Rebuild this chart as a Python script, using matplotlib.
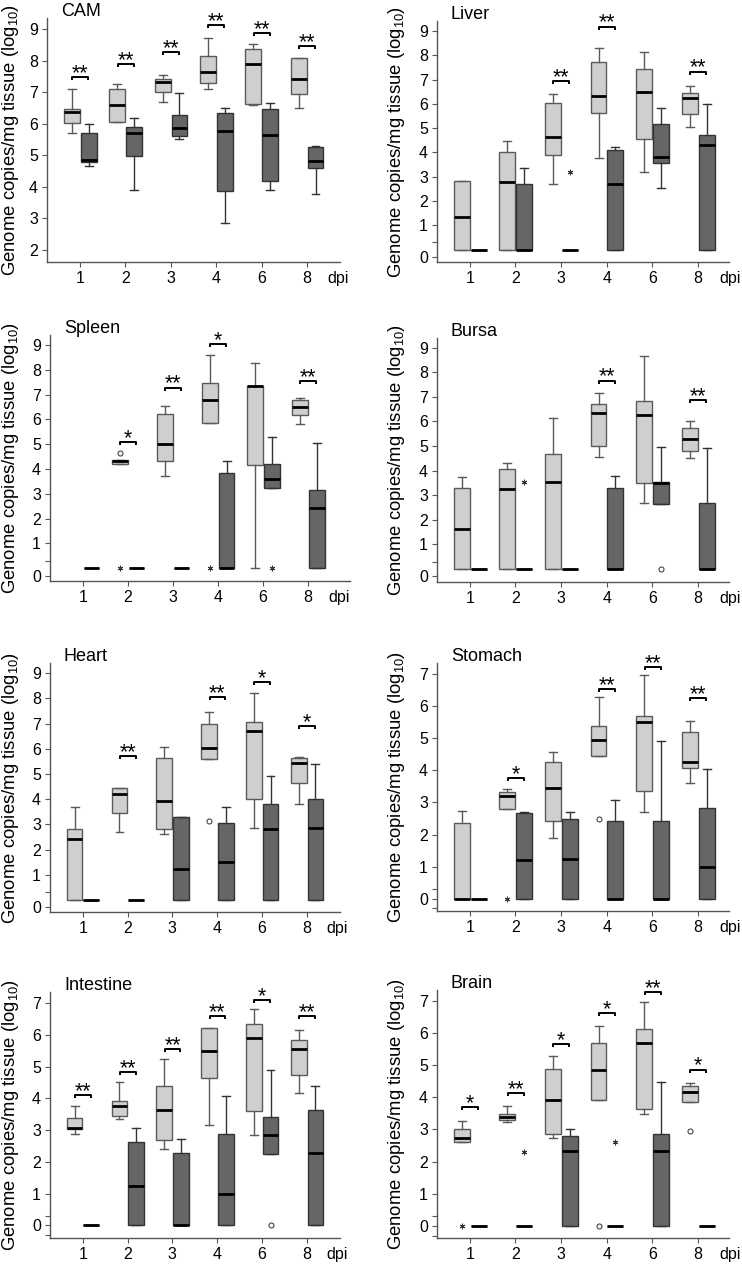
"""Viral genome copies per tissue, 8 boxplot panels -> out.png"""
import matplotlib

matplotlib.use("Agg")
import matplotlib.pyplot as plt

plt.rcParams.update({
    "font.family": ["Liberation Sans", "DejaVu Sans"],
    "mathtext.fontset": "custom",
    "mathtext.rm": "Liberation Sans",
    "mathtext.it": "Liberation Sans:italic",
    "mathtext.bf": "Liberation Sans:bold",
})

W, H = 742, 1265
DPI_LABELS = ["1", "2", "3", "4", "6", "8"]
YLABEL = "Genome copies/mg tissue (log$_{10}$)"

# rows: [whislo, q1, median, q3, whishi] per dpi; None = no box drawn
Z = [0, 0, 0, 0, 0]

CAM_LIGHT = [[5.72, 6.02, 6.39, 6.48, 7.10], [6.05, 6.07, 6.60, 7.12, 7.27],
             [6.68, 7.00, 7.34, 7.44, 7.55], [7.10, 7.29, 7.66, 8.15, 8.71],
             [6.60, 6.62, 7.90, 8.37, 8.55], [6.52, 6.94, 7.41, 8.10, 8.10]]
CAM_DARK = [[4.68, 4.78, 4.86, 5.70, 6.01], [3.90, 4.99, 5.70, 5.91, 6.18],
            [5.51, 5.62, 5.88, 6.27, 6.97], [2.85, 3.87, 5.78, 6.34, 6.49],
            [3.90, 4.20, 5.65, 6.47, 6.67], [3.78, 4.59, 4.82, 5.26, 5.30]]
CAM_FLIERS = []
CAM_SIG = [(0, 7.48, "**"), (1, 7.90, "**"), (2, 8.29, "**"),
           (3, 9.14, "**"), (4, 8.89, "**"), (5, 8.48, "**")]

LIVER_LIGHT = [[0, 0, 1.33, 2.83, 2.83], [0, 0, 2.80, 4.03, 4.45],
               [2.69, 3.90, 4.62, 6.02, 6.41], [3.79, 5.64, 6.34, 7.74, 8.31],
               [3.21, 4.57, 6.50, 7.42, 8.15], [5.06, 5.57, 6.26, 6.46, 6.74]]
LIVER_DARK = [Z, [0, 0, 0, 2.69, 3.35], Z, [0, 0, 2.70, 4.08, 4.24],
              [2.53, 3.58, 3.83, 5.16, 5.82], [0, 0, 4.31, 4.72, 6.00]]
LIVER_FLIERS = [(2, "D", 3.21, "*")]
LIVER_SIG = [(2, 6.94, "**"), (3, 9.18, "**"), (5, 7.33, "**")]

SPLEEN_LIGHT = [None, [4.20, 4.20, 4.30, 4.36, 4.36],
                [3.72, 4.30, 5.01, 6.20, 6.54], [5.84, 5.84, 6.76, 7.48, 8.60],
                [0, 4.16, 7.36, 7.36, 8.29], [5.80, 6.18, 6.49, 6.78, 6.85]]
SPLEEN_DARK = [Z, Z, Z, [0, 0, 0, 3.83, 4.30],
               [3.22, 3.22, 3.58, 4.20, 5.30], [0, 0, 2.41, 3.15, 5.04]]
SPLEEN_FLIERS = [(1, "L", 4.66, "o"), (1, "L", 0, "*"), (3, "L", 0, "*"),
                 (4, "D", 0, "*")]
SPLEEN_SIG = [(1, 5.10, "*"), (2, 7.28, "**"), (3, 9.03, "*"), (5, 7.55, "**")]

BURSA_LIGHT = [[0, 0, 1.61, 3.28, 3.72], [0, 0, 3.25, 4.05, 4.30],
               [0, 0, 3.55, 4.66, 6.15], [4.57, 5.00, 6.33, 6.70, 7.14],
               [2.67, 3.49, 6.26, 6.83, 8.66], [4.53, 4.81, 5.29, 5.72, 6.01]]
BURSA_DARK = [Z, Z, Z, [0, 0, 0, 3.28, 3.76],
              [2.63, 2.63, 3.49, 3.55, 4.95], [0, 0, 0, 2.70, 4.91]]
BURSA_FLIERS = [(1, "D", 3.53, "*"), (4, "D", 0, "o")]
BURSA_SIG = [(3, 7.66, "**"), (5, 6.85, "**")]

HEART_LIGHT = [[0, 0, 2.40, 2.81, 3.71], [2.69, 3.44, 4.20, 4.44, 4.44],
               [2.61, 2.82, 3.91, 5.63, 6.06], [5.59, 5.59, 6.05, 6.99, 7.48],
               [2.85, 4.00, 6.71, 7.08, 8.21], [3.80, 4.66, 5.43, 5.63, 5.67]]
HEART_DARK = [Z, Z, [0, 0, 1.22, 3.31, 3.31], [0, 0, 1.49, 3.05, 3.71],
              [0, 0, 2.81, 3.80, 4.93], [0, 0, 2.85, 4.00, 5.39]]
HEART_FLIERS = [(3, "L", 3.14, "o")]
HEART_SIG = [(1, 5.73, "**"), (3, 8.05, "**"), (4, 8.64, "*"), (5, 6.91, "*")]

STOMACH_LIGHT = [[0, 0, 0, 2.35, 2.73], [2.78, 2.78, 3.21, 3.33, 3.42],
                 [1.88, 2.43, 3.44, 4.27, 4.56], [4.46, 4.46, 4.94, 5.38, 6.29],
                 [2.71, 3.37, 5.49, 5.69, 6.97], [3.61, 4.06, 4.25, 5.20, 5.52]]
STOMACH_DARK = [Z, [0, 0, 1.21, 2.68, 2.71], [0, 0, 1.23, 2.47, 2.71],
                [0, 0, 0, 2.43, 3.06], [0, 0, 0, 2.43, 4.92],
                [0, 0, 1.00, 2.82, 4.03]]
STOMACH_FLIERS = [(1, "L", 0, "*"), (3, "L", 2.48, "o")]
STOMACH_SIG = [(1, 3.77, "*"), (3, 6.53, "**"), (4, 7.21, "**"), (5, 6.26, "**")]

INTESTINE_LIGHT = [[2.89, 3.04, 3.07, 3.38, 3.76], [3.36, 3.45, 3.77, 3.93, 4.53],
                   [2.41, 2.70, 3.62, 4.39, 5.25], [3.17, 4.65, 5.48, 6.22, 6.22],
                   [2.83, 3.60, 5.91, 6.35, 6.80], [4.17, 4.72, 5.56, 5.85, 6.14]]
INTESTINE_DARK = [Z, [0, 0, 1.24, 2.62, 3.08], [0, 0, 0, 2.28, 2.71],
                  [0, 0, 1.00, 2.88, 4.07], [2.26, 2.26, 2.86, 3.41, 4.88],
                  [0, 0, 2.28, 3.62, 4.39]]
INTESTINE_FLIERS = [(4, "D", 0, "o")]
INTESTINE_SIG = [(0, 4.11, "**"), (1, 4.83, "**"), (2, 5.56, "**"),
                 (3, 6.59, "**"), (4, 7.10, "*"), (5, 6.58, "**")]

BRAIN_LIGHT = [[2.61, 2.61, 2.74, 3.00, 3.26], [3.23, 3.29, 3.39, 3.47, 3.72],
               [2.74, 2.87, 3.93, 4.89, 5.28], [3.91, 3.91, 4.84, 5.67, 6.21],
               [3.47, 3.63, 5.67, 6.11, 6.97], [3.86, 3.86, 4.17, 4.35, 4.43]]
BRAIN_DARK = [Z, Z, [0, 0, 2.33, 2.79, 3.00], Z, [0, 0, 2.33, 2.87, 4.48], Z]
BRAIN_FLIERS = [(0, "L", 0, "*"), (1, "D", 2.30, "*"), (3, "L", 0, "o"),
                (3, "D", 2.61, "*"), (5, "L", 2.95, "o")]
BRAIN_SIG = [(0, 3.70, "*"), (1, 4.12, "**"), (2, 5.64, "*"),
             (3, 6.61, "*"), (4, 7.26, "**"), (5, 4.86, "*")]

# y-axis styles
CAM_TICKS = ([2, 3, 4, 5, 6, 7, 8, 9], [str(v) for v in range(2, 10)])
UP_TICKS = ([-0.3, 0.3] + list(range(1, 10)), ["0", ""] + [str(v) for v in range(1, 10)])
LOW_TICKS = ([-0.3, 0, 0.3] + list(range(1, 8)), ["", "0", ""] + [str(v) for v in range(1, 8)])

# name, light, dark, fliers, sig, frame px (l, t, r, b), xlim, ylim, ticks, ylabel x px, dpi x
PANELS = [
    ("CAM", CAM_LIGHT, CAM_DARK, CAM_FLIERS, CAM_SIG, (47, 18, 340, 262),
     (0.27, 6.73), (1.62, 9.36), CAM_TICKS, 11, 6.68),
    ("Liver", LIVER_LIGHT, LIVER_DARK, LIVER_FLIERS, LIVER_SIG, (437, 21, 729, 262),
     (0.28, 6.68), (-0.51, 9.41), UP_TICKS, 397, 6.70),
    ("Spleen", SPLEEN_LIGHT, SPLEEN_DARK, SPLEEN_FLIERS, SPLEEN_SIG, (50, 335, 350, 581),
     (0.27, 6.93), (-0.52, 9.40), UP_TICKS, 11, 6.68),
    ("Bursa", BURSA_LIGHT, BURSA_DARK, BURSA_FLIERS, BURSA_SIG, (437, 338, 729, 582),
     (0.28, 6.68), (-0.53, 9.39), UP_TICKS, 397, 6.70),
    ("Heart", HEART_LIGHT, HEART_DARK, HEART_FLIERS, HEART_SIG, (50, 663, 340, 912),
     (0.27, 6.74), (-0.48, 9.41), UP_TICKS, 11, 6.68),
    ("Stomach", STOMACH_LIGHT, STOMACH_DARK, STOMACH_FLIERS, STOMACH_SIG, (437, 663, 729, 911),
     (0.28, 6.68), (-0.38, 7.34), LOW_TICKS, 397, 6.70),
    ("Intestine", INTESTINE_LIGHT, INTESTINE_DARK, INTESTINE_FLIERS, INTESTINE_SIG,
     (50, 992, 340, 1238), (0.27, 6.74), (-0.40, 7.35), LOW_TICKS, 11, 6.68),
    ("Brain", BRAIN_LIGHT, BRAIN_DARK, BRAIN_FLIERS, BRAIN_SIG, (437, 990, 729, 1238),
     (0.28, 6.68), (-0.37, 7.33), LOW_TICKS, 397, 6.70),
]

LIGHT_FACE, LIGHT_EDGE = "#cfcfcf", "#5a5a5a"
DARK_FACE, DARK_EDGE = "#666666", "#333333"
AXIS = "#555555"
BOX_W = 0.35
OFF = {"L": -0.18, "D": 0.19}


def draw_group(ax, rows, offset, face, edge):
    stats, pos = [], []
    for i, r in enumerate(rows):
        if r is None:
            continue
        lo, q1, med, q3, hi = r
        stats.append(dict(whislo=lo, q1=q1, med=med, q3=q3, whishi=hi, fliers=[]))
        pos.append(i + 1 + offset)
    ax.bxp(stats, positions=pos, widths=BOX_W, capwidths=BOX_W * 0.5,
           patch_artist=True, showfliers=False, manage_ticks=False,
           boxprops=dict(facecolor=face, edgecolor=edge, lw=1.0),
           whiskerprops=dict(color=edge, lw=1.0),
           capprops=dict(color=edge, lw=1.0),
           medianprops=dict(color="black", lw=2.0, solid_capstyle="butt"))


def panel(fig, name, light, dark, fliers, sig, frame, xlim, ylim, ticks, ylab_x, dpi_x):
    l, t, r, b = frame
    ax = fig.add_axes([l / W, 1 - b / H, (r - l) / W, (b - t) / H])
    draw_group(ax, light, OFF["L"], LIGHT_FACE, LIGHT_EDGE)
    draw_group(ax, dark, OFF["D"], DARK_FACE, DARK_EDGE)

    for i, grp, v, m in fliers:
        x = i + 1 + OFF[grp]
        if m == "o":
            ax.plot(x, v, "o", ms=3.6, mfc="none", mec="#444444", mew=0.8,
                    clip_on=False, zorder=5)
        else:
            ax.plot(x, v, marker=(6, 2, 0), ms=4, color="#333333", mew=0.7,
                    ls="none", clip_on=False, zorder=5)

    tip = (ylim[1] - ylim[0]) * 3.0 / (b - t)
    for i, y, lab in sig:
        x0, x1 = i + 1 - 0.17, i + 1 + 0.18
        ax.plot([x0, x0, x1, x1], [y - tip, y, y, y - tip], color="black",
                lw=1.4, clip_on=False, solid_capstyle="butt")
        ax.annotate(lab, ((x0 + x1) / 2, y), xytext=(0, -1.5),
                    textcoords="offset points", ha="center", va="baseline",
                    fontsize=15.5, clip_on=False)

    ax.set_xlim(*xlim)
    ax.set_ylim(*ylim)
    ax.set_xticks(range(1, 7))
    ax.set_xticklabels(DPI_LABELS, fontsize=11.5)
    ax.set_yticks(ticks[0])
    ax.set_yticklabels(ticks[1], fontsize=11.5)
    ax.tick_params(direction="out", length=3.5, width=0.8, color=AXIS, pad=3)
    for s in ("top", "right"):
        ax.spines[s].set_visible(False)
    for s in ("left", "bottom"):
        ax.spines[s].set_color(AXIS)
        ax.spines[s].set_linewidth(1.0)
    ax.patch.set_alpha(0)

    ax.annotate("dpi", xy=(dpi_x, 0), xycoords=("data", "axes fraction"),
                xytext=(0, -6.5), textcoords="offset points", ha="center",
                va="top", fontsize=11.5, annotation_clip=False)
    ax.annotate(name, xy=(0, 1), xycoords="axes fraction", xytext=(10, 5),
                textcoords="offset points", ha="left", va="center", fontsize=13)
    fig.text(ylab_x / W, 1 - (t + b) / 2 / H, YLABEL, rotation=90,
             ha="center", va="center", fontsize=13.3)


def main():
    fig = plt.figure(figsize=(W / 100, H / 100), dpi=100)
    for p in PANELS:
        panel(fig, *p)
    fig.savefig("out.png", dpi=100)
    plt.close(fig)


if __name__ == "__main__":
    main()
